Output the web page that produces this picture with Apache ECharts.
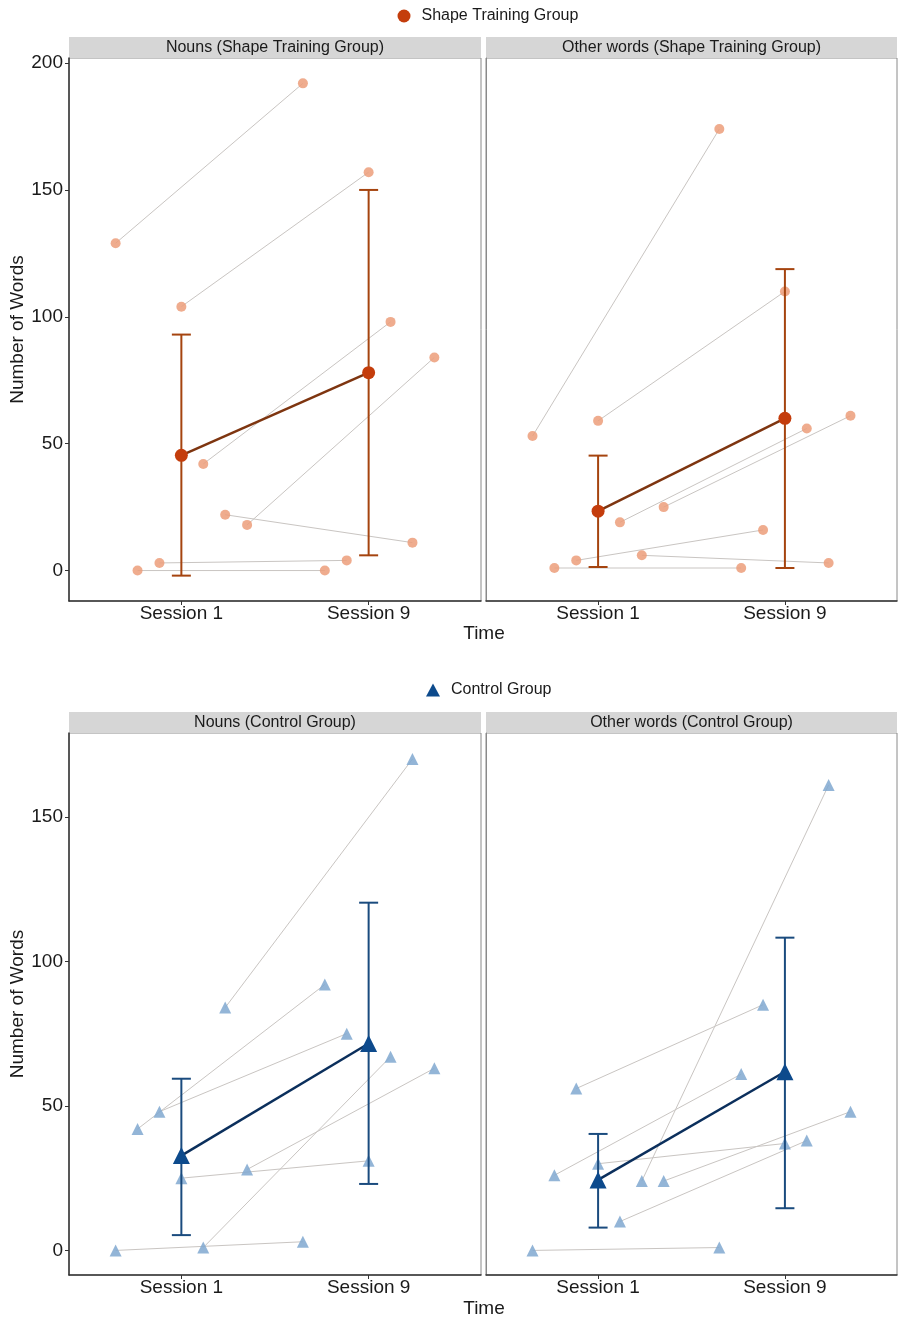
<!DOCTYPE html>
<html>
<head>
<meta charset="utf-8">
<script src="https://cdn.jsdelivr.net/npm/echarts@6.0.0/dist/echarts.min.js"></script>
<style>
  html, body { margin: 0; padding: 0; background: #fff; }
  #chart { width: 898px; height: 1320px; }
</style>
</head>
<body>
<div id="chart"></div>
<script>
// --- data ---
const sessionLabels = ['Session 1', 'Session 9']
const groupNames = ['Shape Training Group', 'Control Group']
const panelTitles = [
  'Nouns (Shape Training Group)', 'Other words (Shape Training Group)',
  'Nouns (Control Group)', 'Other words (Control Group)',
]
// participant dodge offsets on the session axis
const dodge = [-0.351, -0.234, -0.117, 0, 0.117, 0.234, 0.351]

const shapeNounsS1 = [129, 0, 3, 104, 42, 22, 18]
const shapeNounsS9 = [192, 0, 4, 157, 98, 11, 84]
const shapeNounsMean = [45.4, 78.0]
const shapeNounsLow = [-2, 6]
const shapeNounsHigh = [93, 150]

const shapeOtherS1 = [53, 1, 4, 59, 19, 6, 25]
const shapeOtherS9 = [174, 1, 16, 110, 56, 3, 61]
const shapeOtherMean = [23.4, 60.0]
const shapeOtherLow = [1.4, 1.0]
const shapeOtherHigh = [45.3, 118.8]

const controlNounsS1 = [0, 42, 48, 25, 1, 84, 28]
const controlNounsS9 = [3, 92, 75, 31, 67, 170, 63]
const controlNounsMean = [32.8, 71.6]
const controlNounsLow = [5.3, 23.0]
const controlNounsHigh = [59.4, 120.3]

const controlOtherS1 = [0, 26, 56, 30, 10, 24, 24]
const controlOtherS9 = [1, 61, 85, 37, 38, 161, 48]
const controlOtherMean = [24.4, 61.8]
const controlOtherLow = [7.9, 14.6]
const controlOtherHigh = [40.3, 108.2]

const yTicksShape = [0, 50, 100, 150, 200]
const yTicksControl = [0, 50, 100, 150]

// --- layout / style ---
const FONT = '"Liberation Sans", Arial, sans-serif'
const panels = [
  { s1: shapeNounsS1, s9: shapeNounsS9, mean: shapeNounsMean, lo: shapeNounsLow, hi: shapeNounsHigh, g: 0, left: 69, top: 58, h: 543 },
  { s1: shapeOtherS1, s9: shapeOtherS9, mean: shapeOtherMean, lo: shapeOtherLow, hi: shapeOtherHigh, g: 0, left: 486, top: 58, h: 543 },
  { s1: controlNounsS1, s9: controlNounsS9, mean: controlNounsMean, lo: controlNounsLow, hi: controlNounsHigh, g: 1, left: 69, top: 733, h: 542 },
  { s1: controlOtherS1, s9: controlOtherS9, mean: controlOtherMean, lo: controlOtherLow, hi: controlOtherHigh, g: 1, left: 486, top: 733, h: 542 },
]
const groupStyle = [
  { symbol: 'circle', size: 10, meanSize: 13, point: 'rgba(236,158,122,0.85)', mean: '#C43D0C', meanLine: '#7E3510', bar: '#A5440F', yMin: -12, yMax: 202, ticks: yTicksShape },
  { symbol: 'triangle', size: 12, meanSize: 17, point: 'rgba(128,168,208,0.85)', mean: '#0D4A8C', meanLine: '#0B2F5C', bar: '#1A4B7E', yMin: -8.5, yMax: 179, ticks: yTicksControl },
]

const grid = []
const xAxis = []
const yAxis = []
const series = []
const graphic = []

panels.forEach((p, i) => {
  const st = groupStyle[p.g]
  const isLeft = p.left < 100
  grid.push({
    left: p.left, top: p.top, width: isLeft ? 412 : 411, height: p.h,
    show: true, borderColor: '#8a8a8a', borderWidth: 1, outerBoundsMode: 'none',
  })
  xAxis.push({
    type: 'value', gridIndex: i, min: 0.4, max: 2.6,
    splitLine: { show: false },
    axisLine: { show: true, onZero: false, lineStyle: { color: '#333', width: 1.5 } },
    axisTick: { show: true, customValues: [1, 2], length: 4, lineStyle: { color: '#333' } },
    axisLabel: {
      customValues: [1, 2], margin: 3, fontSize: 19, color: '#1a1a1a', fontFamily: FONT,
      formatter: (v) => sessionLabels[Math.round(v) - 1],
    },
  })
  yAxis.push({
    type: 'value', gridIndex: i, min: st.yMin, max: st.yMax,
    splitLine: { show: false },
    axisLine: { show: true, onZero: false, lineStyle: { color: isLeft ? '#333' : '#8a8a8a', width: isLeft ? 1.5 : 1 } },
    axisTick: { show: isLeft, customValues: st.ticks, length: 4, lineStyle: { color: '#333' } },
    axisLabel: { show: isLeft, customValues: st.ticks, margin: 6, fontSize: 19, color: '#1a1a1a', fontFamily: FONT },
    name: isLeft ? 'Number of Words' : '',
    nameLocation: 'middle', nameGap: 42,
    nameTextStyle: { fontSize: 19, color: '#1a1a1a', fontFamily: FONT },
  })

  // individual participants
  p.s1.forEach((v, k) => {
    series.push({
      type: 'line', xAxisIndex: i, yAxisIndex: i, silent: true,
      data: [[1 + dodge[k], v], [2 + dodge[k], p.s9[k]]],
      symbol: st.symbol, symbolSize: st.size,
      itemStyle: { color: st.point },
      lineStyle: { color: '#c9c5c2', width: 1 },
      z: 2,
    })
  })

  // error bars (± SD)
  series.push({
    type: 'custom', xAxisIndex: i, yAxisIndex: i, silent: true,
    data: p.lo.map((l, k) => [k + 1, l, p.hi[k]]),
    encode: { x: 0, y: [1, 2] },
    renderItem: (params, api) => {
      const x = api.value(0)
      const a = api.coord([x, api.value(1)])
      const b = api.coord([x, api.value(2)])
      const hw = 9.5
      const style = { stroke: st.bar, lineWidth: 2 }
      return {
        type: 'group',
        children: [
          { type: 'line', shape: { x1: a[0], y1: a[1], x2: b[0], y2: b[1] }, style },
          { type: 'line', shape: { x1: a[0] - hw, y1: a[1], x2: a[0] + hw, y2: a[1] }, style },
          { type: 'line', shape: { x1: b[0] - hw, y1: b[1], x2: b[0] + hw, y2: b[1] }, style },
        ],
      }
    },
    z: 5,
  })

  // group mean
  series.push({
    name: groupNames[p.g],
    type: 'line', xAxisIndex: i, yAxisIndex: i,
    data: p.mean.map((m, k) => [k + 1, m]),
    symbol: st.symbol, symbolSize: st.meanSize,
    itemStyle: { color: st.mean },
    lineStyle: { color: st.meanLine, width: 2.5 },
    z: 10,
  })

  // facet strip
  const w = isLeft ? 412 : 411
  graphic.push({
    type: 'rect', left: p.left, top: p.top - 21, silent: true,
    shape: { width: w, height: 21 }, style: { fill: '#d6d6d6' },
  })
  graphic.push({
    type: 'text', silent: true,
    x: p.left + w / 2, y: p.top - 10.5,
    style: { text: panelTitles[i], fontSize: 16, fontFamily: FONT, fill: '#1a1a1a', align: 'center', verticalAlign: 'middle' },
  })
})

// x axis titles
;[634, 1309].forEach((y) => {
  graphic.push({
    type: 'text', silent: true, x: 484, y,
    style: { text: 'Time', fontSize: 19, fontFamily: FONT, fill: '#1a1a1a', align: 'center', verticalAlign: 'middle' },
  })
})

const legendText = { fontSize: 16, color: '#1a1a1a', fontFamily: FONT, padding: [0, 0, 0, 6] }

const chart = echarts.init(document.getElementById('chart'), null, { renderer: 'canvas' })
chart.setOption({
  animation: false,
  backgroundColor: '#fff',
  legend: [
    {
      data: [{ name: groupNames[0], icon: 'circle' }],
      left: 397.5, top: 8, padding: 0, itemWidth: 13, itemHeight: 13,
      textStyle: legendText, selectedMode: false,
    },
    {
      data: [{ name: groupNames[1], icon: 'triangle' }],
      left: 426, top: 682, padding: 0, itemWidth: 14, itemHeight: 13,
      textStyle: legendText, selectedMode: false,
    },
  ],
  grid,
  xAxis,
  yAxis,
  series,
  graphic,
})
</script>
</body>
</html>
